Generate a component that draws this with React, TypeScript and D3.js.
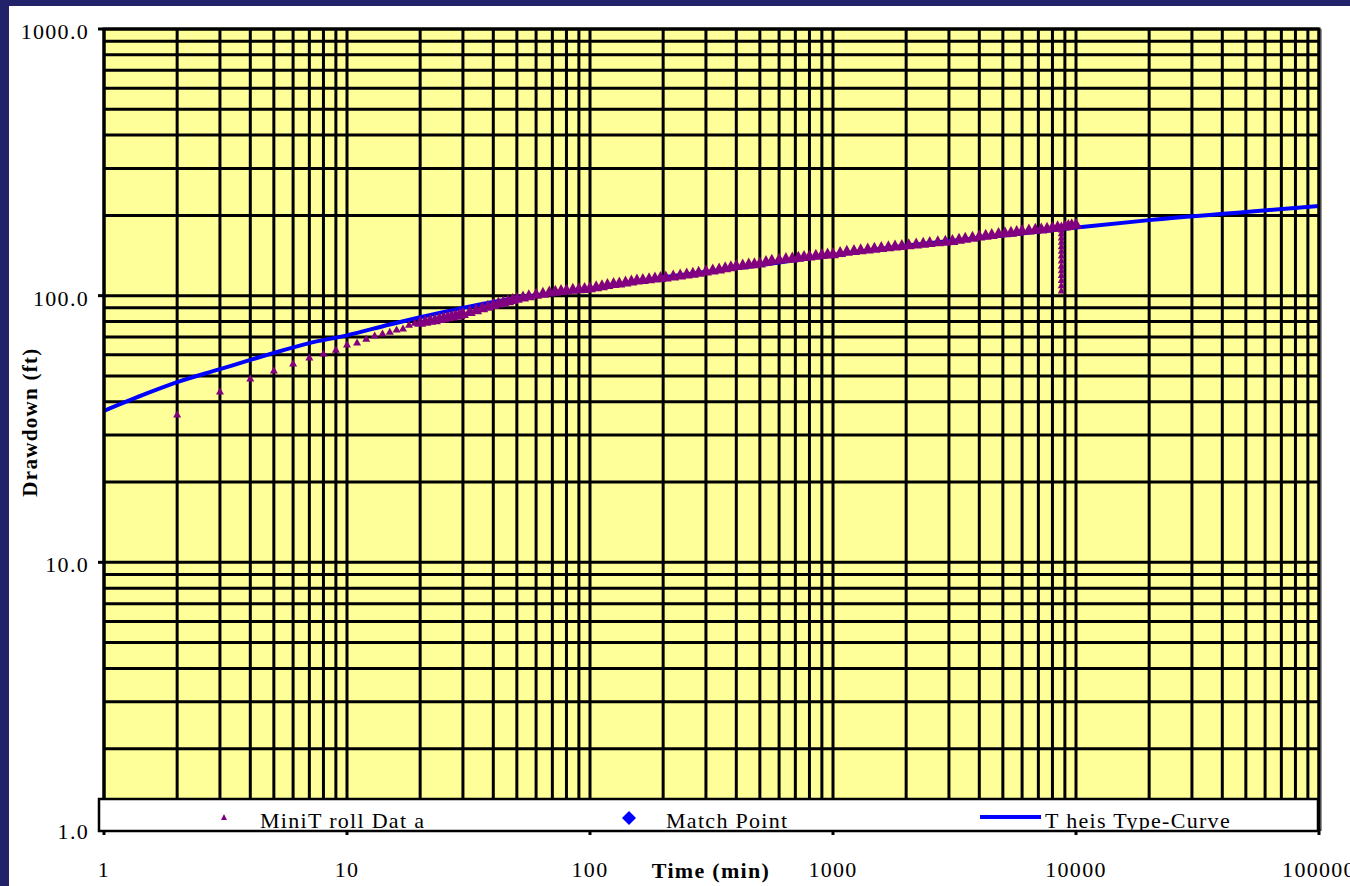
import React from "react";
import * as d3 from "d3";

// Axis ticks and labels
const xTicks = [1, 10, 100, 1000, 10000, 100000];
const xTickLabels = ["1", "10", "100", "1000", "10000", "100000"];
const yTicks = [1, 10, 100, 1000];
const yTickLabels = ["1.0", "10.0", "100.0", "1000.0"];

// Theis type-curve (time in min, drawdown in ft)
const theisTime = [1, 1.5, 2, 3, 4, 5, 7, 10, 15, 20, 30, 50, 100, 200, 500, 1000, 2000, 5000, 10000, 20000, 50000, 100000];
const theisDrawdown = [37, 43, 47.4, 53, 57.4, 61, 66.4, 71, 78, 83, 90, 98, 106, 117, 130, 142, 154, 168, 180, 192, 206, 217];

// MiniTroll transducer record (time in min, drawdown in ft)
const trollTime = [
  2, 3, 4, 5, 6, 7, 8, 9, 10, 11, 12, 13, 14, 15, 16, 17, 18, 19, 20, 21, 22, 23, 24, 25, 26, 27, 28, 29, 30,
  32, 34, 36, 38, 40, 42, 44, 46, 48, 50, 53, 56, 60, 64, 68, 72, 76, 80, 85, 90, 95, 100,
  106, 112, 118, 125, 132, 140, 148, 156, 165, 175, 185, 195, 205, 220, 235, 250, 265, 280, 300,
  320, 340, 360, 380, 400, 425, 450, 475, 500, 530, 560, 600, 640, 680, 720, 760, 800, 850, 900, 950, 1000,
  1070, 1140, 1220, 1300, 1390, 1480, 1580, 1690, 1800, 1920, 2050, 2200, 2350, 2500, 2700, 2900, 3100,
  3300, 3500, 3750, 4000, 4250, 4500, 4800, 5100, 5400, 5700, 6000, 6400, 6800, 7200, 7600, 8000, 8400,
  9000, 9300, 9600, 10000,
];
const trollDrawdown = [
  36, 43.9, 49.1, 52.6, 55.9, 58.9, 60.9, 63, 65.9, 67, 69.3, 71.2, 72.4, 73.6, 75, 75.6, 78.2, 79.5, 80.2, 80.8, 81.5, 82, 82.8, 83.4, 84, 84.6, 85.2, 85.8, 86.5,
  88, 89.4, 90.8, 92, 93.5, 94.6, 95.6, 96.6, 97.6, 98.6, 99.8, 100.8, 102, 103, 104, 104.8, 105.5, 106, 106.6, 107, 107.4, 108,
  109, 110, 111, 112, 112.5, 113.5, 114.5, 115.5, 116, 116.8, 117.5, 118, 118.5, 119.5, 120.5, 121.5, 122.5, 123.5, 124.7,
  126, 127, 128.5, 129.5, 131, 131.5, 132.5, 133, 133.8, 135.5, 137, 138, 139, 139.6, 140.5, 141.5, 142, 143, 144, 144.5, 145,
  146.5, 148, 149, 150, 151, 152, 153, 154, 155, 155.5, 156.5, 157.5, 158.5, 159.5, 160.5, 161.3, 162.5,
  164, 165.5, 167, 168.7, 170, 171, 172.5, 173.5, 174.5, 175.5, 177, 178, 178.8, 179.5, 180.5, 182, 183,
  184, 185, 186, 187,
];

// Short disturbance in the record near 8700 min
const dipTime = [8700, 8700, 8700, 8700, 8700, 8700, 8700, 8700, 8700, 8700, 8700, 8700, 8700, 8700, 8700];
const dipDrawdown = [184, 178, 172, 166, 160, 154, 148, 142, 136, 130, 125, 120, 115, 110, 105];

const NAVY = "#22226a";
const YELLOW = "#ffff99";
const PURPLE = "#800080";
const BLUE = "#0000ff";
const FONT = "'Liberation Serif', 'Times New Roman', serif";

const W = 1350;
const H = 886;
const left = 104;
const right = 1319;
const top = 29;
const bottom = 829;

export default function App() {
  const x = d3.scaleLog().domain([1, 100000]).range([left, right]);
  const y = d3.scaleLog().domain([1, 1000]).range([bottom, top]);

  const xGrid: number[] = [];
  for (let d = 1; d < 100000; d *= 10) for (let k = 1; k <= 9; k++) xGrid.push(d * k);
  xGrid.push(100000);
  const yGrid: number[] = [];
  for (let d = 1; d < 1000; d *= 10) for (let k = 1; k <= 9; k++) yGrid.push(d * k);
  yGrid.push(1000);

  const theisLine = d3
    .line<number>()
    .x((_, i) => x(theisTime[i]))
    .y((v) => y(v))
    .curve(d3.curveMonotoneX)(theisDrawdown);

  const tri = (cx: number, cy: number, w: number, h: number) =>
    `M${cx},${cy - h / 2}L${cx + w / 2},${cy + h / 2}L${cx - w / 2},${cy + h / 2}Z`;

  const legTop = 799;
  const legBottom = 831;
  const legLeft = 99;
  const legRight = 1318;

  const labelStyle = { fontFamily: FONT, fontSize: 22, letterSpacing: 1.3 } as const;

  return (
    <svg width={W} height={H} style={{ position: "absolute", left: 0, top: 0, display: "block" }}>
      <defs>
        <clipPath id="plotClip">
          <rect x={left} y={top} width={right - left} height={bottom - top} />
        </clipPath>
        <clipPath id="legClip">
          <rect x={legLeft} y={legTop} width={legRight - legLeft} height={legBottom - legTop - 1} />
        </clipPath>
      </defs>
      <rect x={0} y={0} width={W} height={H} fill={NAVY} />
      <rect x={9} y={6} width={W - 9} height={H - 6} fill="#ffffff" />

      {/* plot area */}
      <rect x={left} y={top} width={right - left} height={bottom - top} fill={YELLOW} />
      <g stroke="#000" strokeWidth={3}>
        {xGrid.map((v) => (
          <line key={"gx" + v} x1={x(v)} x2={x(v)} y1={top} y2={bottom} />
        ))}
        {yGrid.map((v) => (
          <line key={"gy" + v} x1={left} x2={right} y1={y(v)} y2={y(v)} />
        ))}
      </g>

      {/* series */}
      <g clipPath="url(#plotClip)">
        <path d={theisLine ?? ""} fill="none" stroke={BLUE} strokeWidth={4} />
        <g fill={PURPLE}>
          {trollDrawdown.map((v, i) => (
            <path key={"t" + i} d={tri(x(trollTime[i]), y(v), i < 18 ? 8 : 12, i < 18 ? 7 : 11)} />
          ))}
          {dipDrawdown.map((v, i) => (
            <path key={"d" + i} d={tri(x(dipTime[i]), y(v), 7, 7)} />
          ))}
        </g>
      </g>

      {/* frame */}
      <line x1={right + 2} x2={right + 2} y1={top} y2={bottom + 2} stroke="#999" strokeWidth={2} />
      <rect x={left} y={top} width={right - left} height={bottom - top} fill="none" stroke="#000" strokeWidth={3} />
      <g stroke="#000" strokeWidth={3}>
        {yTicks.map((v) => (
          <line key={"yt" + v} x1={left - 6} x2={left} y1={y(v)} y2={y(v)} />
        ))}
        {xTicks.map((v) => (
          <line key={"xt" + v} x1={x(v)} x2={x(v)} y1={bottom} y2={bottom + 6} />
        ))}
      </g>

      {/* legend */}
      <rect x={legLeft} y={legTop} width={legRight - legLeft} height={legBottom - legTop} fill="#fff" stroke="#000" strokeWidth={2.5} />
      <g clipPath="url(#legClip)" style={labelStyle}>
        <path d={tri(224, 817, 6, 6)} fill={PURPLE} />
        <text x={260} y={828}>MiniT roll Dat a</text>
        <path d="M629,811L636,818L629,825L622,818Z" fill={BLUE} />
        <text x={666} y={828}>Match Point</text>
        <line x1={980} x2={1041} y1={817} y2={817} stroke={BLUE} strokeWidth={4} />
        <text x={1045} y={828}>T heis Type-Curve</text>
      </g>

      {/* tick labels */}
      <g style={labelStyle}>
        {yTicks.map((v, i) => (
          <text key={"yl" + v} x={89} y={y(v) + 10} textAnchor="end">
            {yTickLabels[i]}
          </text>
        ))}
        {xTicks.map((v, i) => (
          <text key={"xl" + v} x={x(v)} y={877} textAnchor="middle">
            {xTickLabels[i]}
          </text>
        ))}
      </g>

      {/* axis titles */}
      <text x={711} y={878} textAnchor="middle" style={{ ...labelStyle, fontWeight: "bold" }}>
        Time (min)
      </text>
      <text
        transform="translate(37,422) rotate(-90)"
        textAnchor="middle"
        style={{ ...labelStyle, fontSize: 21, fontWeight: "bold" }}
      >
        Drawdown (ft)
      </text>
    </svg>
  );
}
